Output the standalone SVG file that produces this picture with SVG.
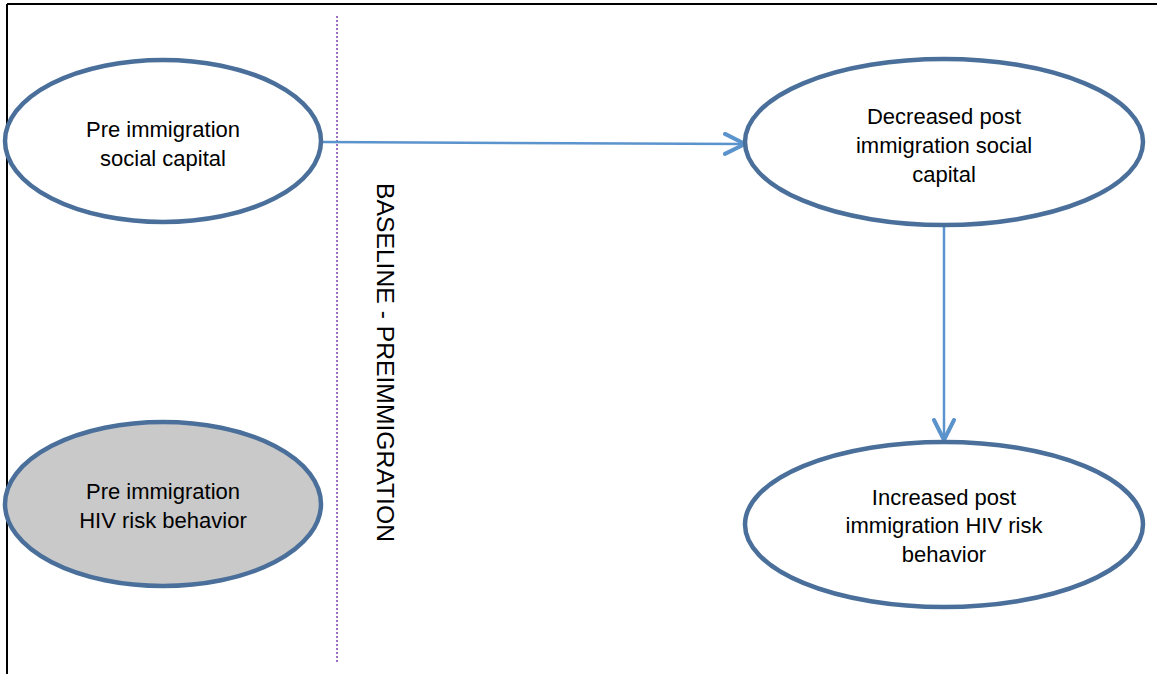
<svg xmlns="http://www.w3.org/2000/svg" width="1157" height="674" viewBox="0 0 1157 674">
<style>
.node{stroke:#4a6f9a;stroke-width:4.5}
.lbl{font-family:"Liberation Sans",Arial,sans-serif;font-size:22px;fill:#000;text-anchor:middle}
.conn{stroke:#5b93cc;stroke-width:2.5;fill:none}
</style>
<defs>
<marker id="arr" viewBox="0 0 24 24" refX="22" refY="12" markerWidth="24" markerHeight="24" markerUnits="userSpaceOnUse" orient="auto">
<path d="M2,2 L22,12 L2,22" fill="none" stroke="#5b93cc" stroke-width="4" stroke-linecap="round" stroke-linejoin="round"/>
</marker>
</defs>
<rect width="1157" height="674" fill="#fff"/>
<g id="frame" stroke="#000" stroke-width="2" fill="none">
<line x1="7" y1="4" x2="1157" y2="4"/>
<line x1="7" y1="4" x2="7" y2="674"/>
</g>
<g id="divider">
<line x1="337" y1="16" x2="337" y2="662" stroke="#7a3fb0" stroke-width="1.5" stroke-dasharray="2,2"/>
<text transform="translate(377,183) rotate(90)" font-family="'Liberation Sans',Arial,sans-serif" font-size="23.5" textLength="359" lengthAdjust="spacingAndGlyphs" fill="#000">BASELINE - PREIMMIGRATION</text>
</g>
<g id="connectors">
<line class="conn" x1="321" y1="142" x2="745" y2="144" marker-end="url(#arr)"/>
<line class="conn" x1="944" y1="226" x2="944" y2="440" marker-end="url(#arr)"/>
</g>
<g id="node-pre-social">
<ellipse class="node" cx="163" cy="141" rx="158" ry="81" fill="#fff"/>
<text class="lbl" x="163" y="137">Pre immigration</text>
<text class="lbl" x="163" y="166">social capital</text>
</g>
<g id="node-pre-hiv">
<ellipse class="node" cx="163" cy="504" rx="158" ry="82" fill="#c9c9c9"/>
<text class="lbl" x="163" y="499">Pre immigration</text>
<text class="lbl" x="163" y="528">HIV risk behavior</text>
</g>
<g id="node-post-social">
<ellipse class="node" cx="944" cy="142" rx="199" ry="83" fill="#fff"/>
<text class="lbl" x="944" y="124">Decreased post</text>
<text class="lbl" x="944" y="153">immigration social</text>
<text class="lbl" x="944" y="182">capital</text>
</g>
<g id="node-post-hiv">
<ellipse class="node" cx="944" cy="524.5" rx="199" ry="82.5" fill="#fff"/>
<text class="lbl" x="944" y="505">Increased post</text>
<text class="lbl" x="944" y="533">immigration HIV risk</text>
<text class="lbl" x="944" y="562">behavior</text>
</g>
</svg>
